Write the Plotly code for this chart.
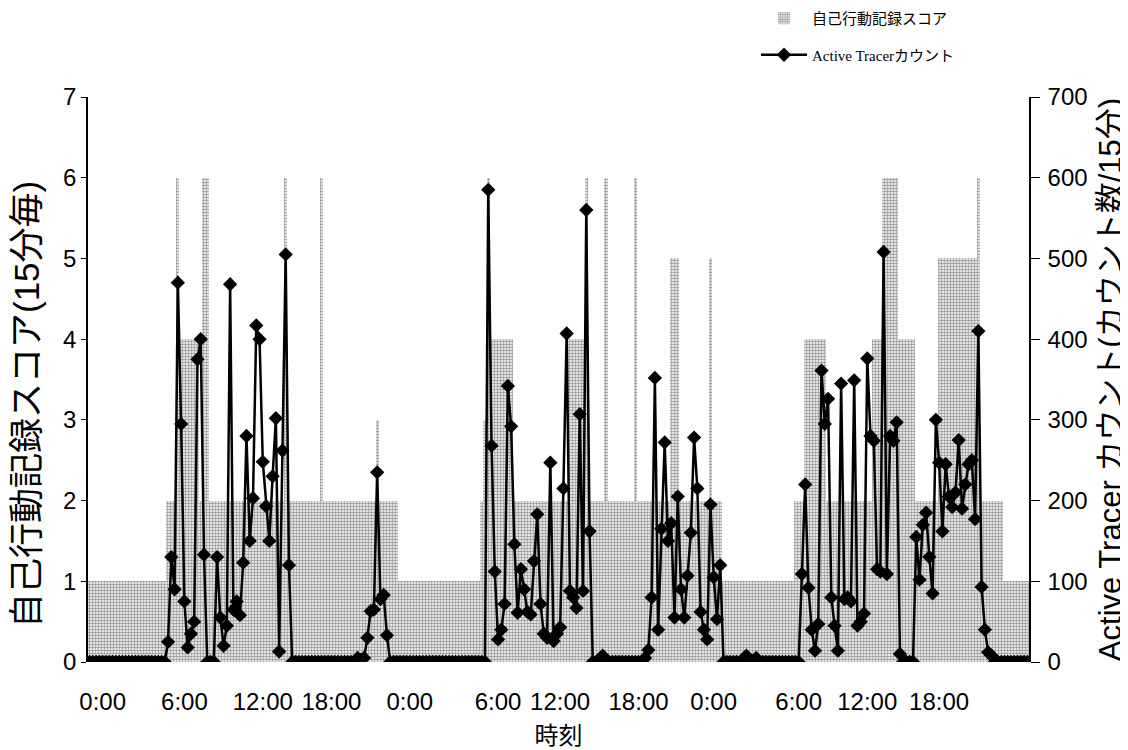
import plotly.graph_objects as go

# 15-minute intervals over three days (96 per day), rows of 6 hours (24 intervals)
tick_labels = ["0:00", "6:00", "12:00", "18:00"] * 3

score_day1 = [
    1, 1, 1, 1, 1, 1, 1, 1, 1, 1, 1, 1, 1, 1, 1, 1, 1, 1, 1, 1, 1, 1, 1, 1,
    2, 2, 2, 6, 4, 4, 4, 4, 4, 4, 2, 6, 6, 2, 2, 2, 2, 2, 2, 2, 2, 2, 2, 2,
    2, 2, 2, 2, 2, 2, 2, 2, 2, 2, 2, 2, 6, 2, 2, 2, 2, 2, 2, 2, 2, 2, 2, 6,
    2, 2, 2, 2, 2, 2, 2, 2, 2, 2, 2, 2, 2, 2, 2, 2, 3, 2, 2, 2, 2, 2, 2, 1,
]
score_day2 = [
    1, 1, 1, 1, 1, 1, 1, 1, 1, 1, 1, 1, 1, 1, 1, 1, 1, 1, 1, 1, 1, 1, 1, 1,
    2, 3, 6, 4, 4, 4, 4, 4, 4, 4, 2, 2, 2, 2, 2, 2, 2, 2, 2, 2, 2, 2, 2, 2,
    2, 2, 2, 4, 4, 4, 4, 4, 6, 2, 2, 2, 2, 2, 6, 2, 2, 2, 2, 2, 2, 2, 2, 6,
    2, 2, 2, 2, 2, 2, 2, 2, 2, 2, 5, 5, 5, 2, 2, 2, 2, 2, 2, 2, 2, 2, 5, 2,
]
score_day3 = [
    2, 2, 1, 1, 1, 1, 1, 1, 1, 1, 1, 1, 1, 1, 1, 1, 1, 1, 1, 1, 1, 1, 1, 1,
    2, 2, 2, 4, 4, 4, 4, 4, 4, 4, 2, 2, 2, 2, 2, 2, 2, 2, 2, 2, 2, 2, 2, 2,
    4, 4, 4, 6, 6, 6, 6, 6, 4, 4, 4, 4, 4, 2, 2, 2, 2, 2, 2, 2, 5, 5, 5, 5,
    5, 5, 5, 5, 5, 5, 5, 5, 6, 2, 2, 2, 2, 2, 2, 2, 1, 1, 1, 1, 1, 1, 1, 1,
]

count_day1 = [
    0, 0, 0, 0, 0, 0, 0, 0, 0, 0, 0, 0, 0, 0, 0, 0, 0, 0, 0, 0, 0, 0, 0, 0,
    25, 130, 90, 470, 295, 75, 18, 35, 50, 375, 400, 133, 0, 0, 0, 130, 55, 20, 45, 468, 65, 75, 58, 123,
    280, 150, 203, 417, 400, 248, 193, 150, 230, 302, 13, 262, 505, 120, 0, 0, 0, 0, 0, 0, 0, 0, 0, 0,
    0, 0, 0, 0, 0, 0, 0, 0, 0, 0, 5, 3, 5, 30, 63, 65, 235, 78, 83, 33, 0, 0, 0, 0,
]
count_day2 = [
    0, 0, 0, 0, 0, 0, 0, 0, 0, 0, 0, 0, 0, 0, 0, 0, 0, 0, 0, 0, 0, 0, 0, 0,
    0, 0, 585, 268, 112, 28, 40, 72, 342, 292, 146, 61, 115, 90, 62, 59, 125, 183, 72, 35, 30, 247, 26, 35,
    43, 215, 407, 88, 80, 67, 307, 88, 560, 162, 0, 0, 0, 8, 0, 0, 0, 0, 0, 0, 0, 0, 0, 0,
    0, 0, 5, 15, 80, 352, 40, 165, 272, 150, 172, 55, 205, 90, 55, 107, 160, 278, 215, 62, 40, 28, 195, 105,
]
count_day3 = [
    53, 120, 0, 0, 0, 0, 0, 0, 0, 8, 0, 0, 5, 0, 0, 0, 0, 0, 0, 0, 0, 0, 0, 0,
    0, 0, 109, 220, 92, 40, 14, 47, 361, 295, 326, 80, 45, 14, 345, 78, 80, 75, 349, 45, 50, 60, 376, 280,
    274, 115, 112, 508, 109, 280, 274, 297, 10, 0, 0, 0, 0, 155, 102, 170, 185, 130, 85, 300, 247, 162, 245, 205,
    192, 210, 275, 190, 220, 245, 250, 177, 410, 93, 40, 12, 8, 0, 0, 0, 0, 0, 0, 0, 0, 0, 0, 0,
]

score = score_day1 + score_day2 + score_day3
count = count_day1 + count_day2 + count_day3
slots = list(range(len(score)))

# label placement nudges (in 15-min slots) to follow the original's uneven label spacing
tick_nudge = [4, 5, 5, 2, 2, 5, 0, 0, -1, 1, -2, -4]
tick_positions = [k * 24 + d for k, d in enumerate(tick_nudge)]

font_sans = "Liberation Sans, Arial, Noto Sans CJK JP, sans-serif"
font_serif = "Liberation Serif, Times New Roman, Noto Sans CJK JP, serif"

m_l, m_r, m_t, m_b = 80, 107, 89, 96
plot_h = 750 - m_t - m_b
plot_w = 1128 - m_l - m_r

fig = go.Figure()
fig.add_trace(go.Bar(
    x=slots, y=score, name="自己行動記録スコア", legendgroup="a",
    marker=dict(color="white", line=dict(width=0),
                pattern=dict(shape=".", fgcolor="#2e2e2e", bgcolor="#ffffff",
                             size=3, solidity=0.55)),
    yaxis="y",
))
fig.add_trace(go.Scatter(
    x=slots, y=count, name="Active Tracerカウント", mode="lines+markers", legendgroup="b",
    line=dict(color="black", width=2.5),
    marker=dict(symbol="diamond", size=11, color="black"),
    yaxis="y2",
))

fig.update_layout(
    width=1128, height=750,
    paper_bgcolor="white", plot_bgcolor="white",
    margin=dict(l=m_l, r=m_r, t=m_t, b=m_b, autoexpand=False),
    bargap=0,
    showlegend=True,
    legend=dict(x=(748 - m_l) / plot_w, y=1 + (m_t + 6) / plot_h,
                xanchor="left", yanchor="top",
                font=dict(family=font_serif, size=15, color="black"),
                bgcolor="rgba(0,0,0,0)", tracegroupgap=14, itemwidth=46),
    xaxis=dict(range=[-0.5, len(score) - 0.5], tickmode="array",
               tickvals=tick_positions, ticktext=tick_labels,
               showline=False, ticks="", showgrid=False, zeroline=False,
               ticklabelstandoff=23,
               tickfont=dict(family=font_sans, size=24, color="black"),
               title=dict(text="時刻", font=dict(family=font_sans, size=24, color="black"),
                          standoff=13)),
    yaxis=dict(range=[0, 7], dtick=1, showline=True, linecolor="black", linewidth=1.5,
               ticks="outside", ticklen=5, tickcolor="black", showgrid=False, zeroline=False,
               tickfont=dict(family=font_sans, size=24, color="black")),
    yaxis2=dict(range=[0, 700], dtick=100, overlaying="y", side="right",
                showline=True, linecolor="black", linewidth=1.5,
                ticks="outside", ticklen=9, tickcolor="black", showgrid=False, zeroline=False,
                ticklabelstandoff=3,
                tickfont=dict(family=font_sans, size=24, color="black"),
                title=dict(text="Active Tracer カウント(カウント数/15分)",
                           font=dict(family=font_sans, size=31, color="black"), standoff=13)),
    annotations=[dict(
        text="自己行動記録スコア(15分毎)", textangle=-90, showarrow=False,
        xref="paper", yref="paper", x=(18 - m_l) / plot_w, y=(654 - 397) / plot_h,
        xanchor="center", yanchor="middle",
        font=dict(family=font_sans, size=35, color="black"),
    )],
)

fig.write_html("out.html")
